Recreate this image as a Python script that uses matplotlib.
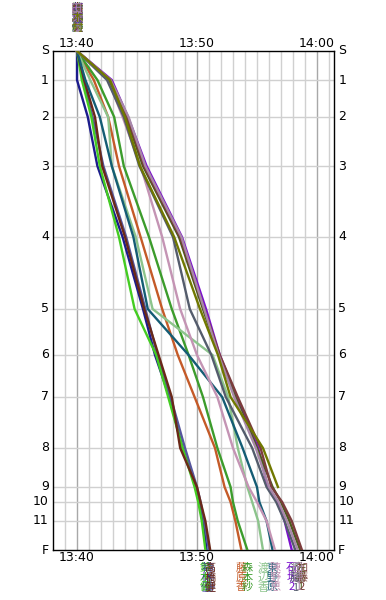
import numpy as np
import matplotlib
matplotlib.use("Agg")
import matplotlib.pyplot as plt
import matplotlib.transforms as mtransforms

plt.rcParams['font.family'] = ['DejaVu Sans']

# ---- data ----
stations = ["S", "1", "2", "3", "4", "5", "6", "7", "8", "9", "10", "11", "F"]
station_pos = [0, 29, 66, 115, 186, 258, 304, 346, 397, 436, 451, 470, 499]
time_ticks = [0, 10, 20]
time_labels = ["13:40", "13:50", "14:00"]

names = ["若林優", "森藤優", "鈴木健", "高橋健", "藤原香", "森本紗", "渡辺香",
         "東野原", "陳野恵", "石坂2", "佐藤1", "加藤2", "近藤1", "田原1", "木村"]
colors = ["#1c1c8c", "#55559c", "#44cc22", "#6a2818", "#c45a28", "#3c9c2c",
          "#8cc48c", "#145c74", "#c494b4", "#7a10cc", "#4c5c1c", "#7c3c3c",
          "#545c6c", "#a888a8", "#707800"]
# minutes after 13:40 at each station (nan = no record)
nan = np.nan
splits = [
    [0, 0.0, 0.9, 1.7, 3.8, 5.5, 6.5, 7.7, 8.8, 9.9, 10.2, 10.5, 10.8],
    [0, 0.5, 1.3, 2.2, 4.1, 5.7, 6.7, 7.8, 9.0, 10.0, 10.3, 10.6, 11.0],
    [0, 0.4, 1.2, 1.9, 3.5, 4.8, 6.6, 7.6, 8.8, 9.8, 10.1, 10.4, 10.7],
    [0, 0.6, 1.5, 2.1, 4.0, 5.6, 6.8, 7.9, 8.6, 10.0, 10.3, 10.7, 11.1],
    [0, 1.4, 2.6, 3.5, 5.3, 7.1, 8.4, 9.8, 11.5, 12.3, 12.8, 13.2, 13.7],
    [0, 1.7, 3.1, 3.9, 6.0, 7.9, 9.3, 10.5, 11.7, 12.8, 13.0, 13.4, 14.2],
    [0, 1.1, 2.6, 2.9, 4.9, 6.3, 11.3, 12.6, 13.4, 14.2, 14.6, 15.1, 15.5],
    [0, 0.7, 1.9, 2.9, 4.7, 5.9, 9.3, 12.1, 13.8, 15.0, 15.2, 15.8, 16.3],
    [0, 2.6, 3.8, 5.3, 7.1, 8.6, 10.0, 11.7, 13.0, 14.3, 15.0, 15.8, 16.5],
    [0, 2.9, 4.25, 5.8, 8.75, 10.75, 11.9, 13.3, 15.1, 15.9, 16.7, 17.3, 17.9],
    [0, 2.7, 4.1, 5.5, 8.5, 10.5, 11.8, 13.2, 15.0, 16.3, 17.0, 17.7, 18.6],
    [0, 2.8, 4.2, 5.6, 8.6, 10.6, 11.9, 13.4, 15.3, 16.2, 17.1, 17.9, 18.75],
    [0, 2.5, 3.9, 5.2, 8.0, 9.4, 11.2, 12.4, 14.6, 15.8, 16.6, 17.3, 18.2],
    [0, 2.8, 4.3, 5.7, 8.7, 10.6, 11.8, 13.1, 14.9, 16.0, 16.8, 17.5, 18.4],
    [0, 2.75, 4.0, 5.25, 8.1, 10.25, 11.75, 12.8, 15.5, 16.75, nan, nan, nan],
]

# ---- figure ----
W, H = 386, 600
fig = plt.figure(figsize=(W / 100, H / 100), dpi=100)
ax = fig.add_axes([53 / W, 50 / H, (334 - 53) / W, (550 - 51) / H])

x_min, x_max = -2.0, 21.42
ax.set_xlim(x_min, x_max)
ax.set_ylim(station_pos[-1], station_pos[0])

# grid
for m in range(-1, 22):
    c = "#a8a8a8" if m % 10 == 0 else "#d0d0d0"
    ax.axvline(m, color=c, lw=1.0, zorder=0)
for p in station_pos[1:-1]:
    ax.axhline(p, color="#d0d0d0", lw=1.0, zorder=0)

for sp in ax.spines.values():
    sp.set_color("black")
    sp.set_linewidth(1.0)

ax.set_xticks([])
ax.set_yticks([])

# station labels on both sides
yb = mtransforms.blended_transform_factory(ax.transAxes, ax.transData)
for s, p in zip(stations, station_pos):
    ax.text(-0.015, p, s, transform=yb, ha="right", va="center", fontsize=9)
    ax.text(1.015, p, s, transform=yb, ha="left", va="center", fontsize=9)

# time labels top and bottom
tb = mtransforms.blended_transform_factory(ax.transData, ax.transAxes)
for t, lab in zip(time_ticks, time_labels):
    ax.text(t, 1.003, lab, transform=tb, ha="center", va="bottom", fontsize=9)
    ax.text(t, -0.003, lab, transform=tb, ha="center", va="top", fontsize=9)

# runner lines
for name, col, sp in zip(names, colors, splits):
    arr = np.array(sp, dtype=float)
    ok = ~np.isnan(arr)
    ax.plot(arr[ok], np.array(station_pos)[ok], color=col, lw=1.7,
            solid_joinstyle="miter", zorder=3)

# names: start (top) and finish (bottom), vertical
cjk = ["Noto Sans CJK JP", "DejaVu Sans"]
for name, col, sp in zip(names, colors, splits):
    vert = "\n".join(name)
    ax.text(0, 1.036, vert, transform=tb, ha="center", va="bottom",
            fontsize=8, color=col, family=cjk, linespacing=0.95)
    if not np.isnan(sp[-1]):
        ax.text(sp[-1], -0.026, vert, transform=tb, ha="center", va="top",
                fontsize=8, color=col, family=cjk, linespacing=0.95)

fig.savefig("out.png", dpi=100)
